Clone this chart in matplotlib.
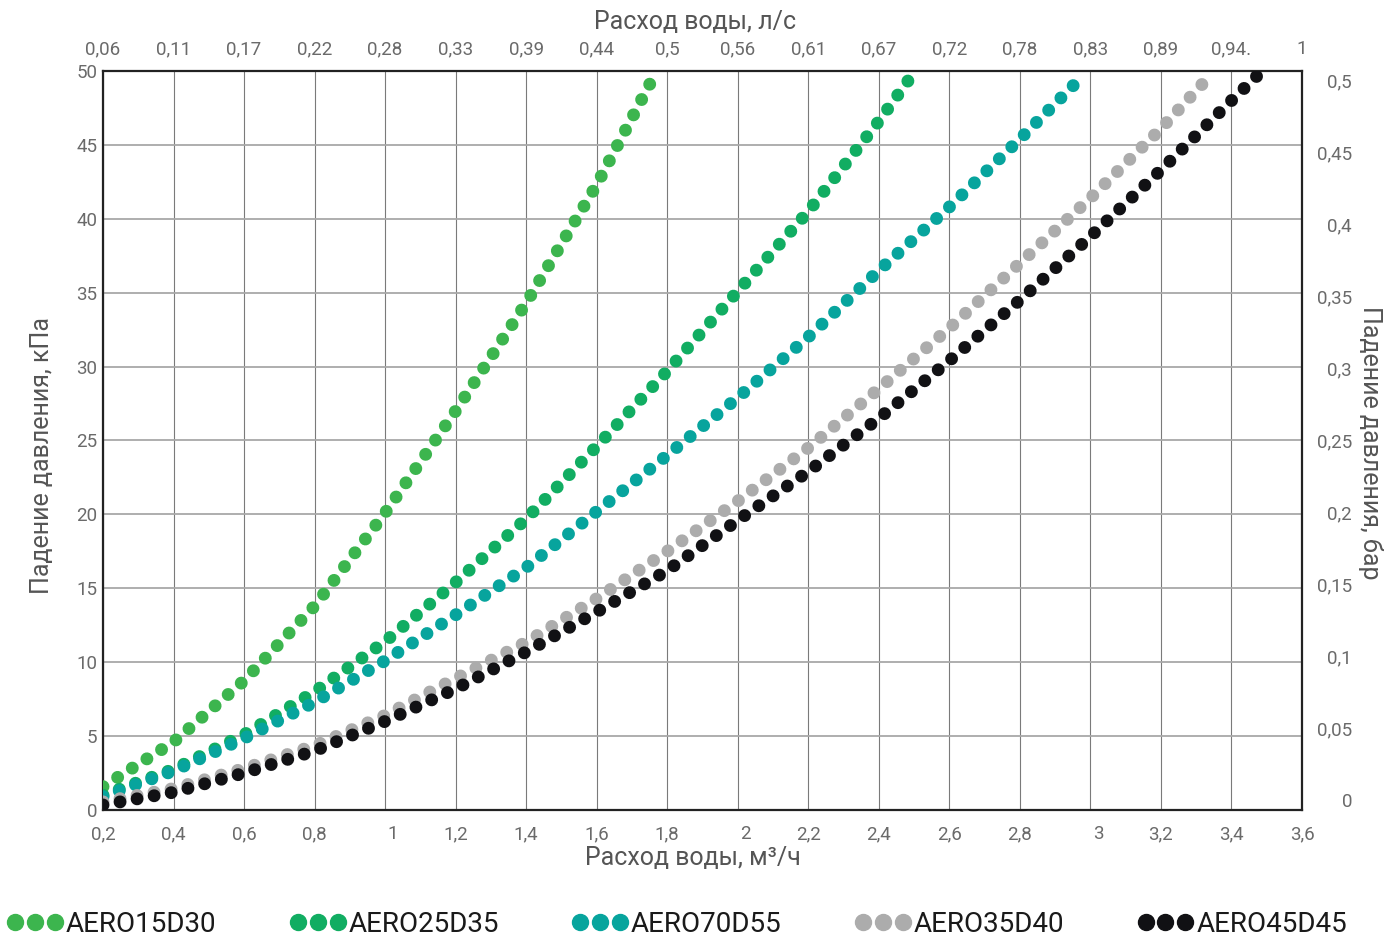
import matplotlib
matplotlib.use('Agg')
import matplotlib.pyplot as plt
import matplotlib.transforms as mtransforms
from matplotlib.lines import Line2D

plt.rcParams['font.family'] = ['Roboto', 'DejaVu Sans']

# --- data ---
x_15 = [0.2, 0.4, 0.6, 0.8, 1.0, 1.2, 1.4, 1.6, 1.77]
y_15 = [1.58, 4.6, 8.75, 13.8, 20.1, 27.0, 34.3, 42.3, 50.0]

x_25 = [0.2, 0.4, 0.6, 0.8, 1.0, 1.2, 1.4, 1.6, 1.8, 2.0, 2.2, 2.4, 2.5]
y_25 = [1.0, 2.75, 5.1, 8.0, 11.4, 15.4, 19.7, 24.6, 29.7, 35.1, 40.5, 46.6, 49.9]

x_70 = [0.2, 0.4, 0.6, 0.8, 1.0, 1.2, 1.4, 1.6, 1.8, 2.0, 2.2, 2.4, 2.6, 2.8, 2.98]
y_70 = [0.9, 2.65, 4.85, 7.3, 10.1, 13.2, 16.4, 20.2, 24.0, 27.9, 32.0, 36.5, 40.8, 45.4, 49.7]

x_35 = [0.2, 0.4, 0.6, 0.8, 1.0, 1.2, 1.4, 1.6, 1.8, 2.0, 2.2, 2.4, 2.6, 2.8, 3.0, 3.2, 3.34]
y_35 = [0.55, 1.45, 2.8, 4.35, 6.4, 8.9, 11.35, 14.3, 17.5, 20.9, 24.5, 28.5, 32.6, 37.0, 41.4, 46.1, 49.7]

x_45 = [0.2, 0.4, 0.6, 0.8, 1.0, 1.2, 1.4, 1.6, 1.8, 2.0, 2.2, 2.4, 2.6, 2.8, 3.0, 3.2, 3.4, 3.5]
y_45 = [0.34, 1.2, 2.5, 4.0, 6.0, 8.2, 10.7, 13.4, 16.2, 19.6, 22.9, 26.5, 30.4, 34.5, 38.8, 43.3, 48.0, 50.3]

names = ['AERO15D30', 'AERO25D35', 'AERO70D55', 'AERO35D40', 'AERO45D45']
colors = ['#3cb54e', '#11ad62', '#07a49d', '#acacac', '#111114']

x_ticks = [0.2, 0.4, 0.6, 0.8, 1.0, 1.2, 1.4, 1.6, 1.8, 2.0, 2.2, 2.4, 2.6, 2.8, 3.0, 3.2, 3.4, 3.6]
x_labels = ['0,2', '0,4', '0,6', '0,8', '1', '1,2', '1,4', '1,6', '1,8', '2', '2,2', '2,4',
            '2,6', '2,8', '3', '3,2', '3,4', '3,6']
top_labels = ['0,06', '0,11', '0,17', '0,22', '0,28', '0,33', '0,39', '0,44', '0,5', '0,56',
              '0,61', '0,67', '0,72', '0,78', '0,83', '0,89', '0,94.', '1']
y_ticks = [0, 5, 10, 15, 20, 25, 30, 35, 40, 45, 50]
bar_ticks = [0, 0.05, 0.1, 0.15, 0.2, 0.25, 0.3, 0.35, 0.4, 0.45, 0.5]
bar_labels = ['0', '0,05', '0,1', '0,15', '0,2', '0,25', '0,3', '0,35', '0,4', '0,45', '0,5']

tick_color = '#6a6a6a'
tick_size = 13.5

fig = plt.figure(figsize=(13.87, 9.40), dpi=100)
ax = fig.add_axes([0.07426, 0.1383, 0.86446, 0.78617])

series = [(x_15, y_15), (x_25, y_25), (x_70, y_70), (x_35, y_35), (x_45, y_45)]
for (xs, ys), c in zip(series, colors):
    ax.plot(xs, ys, color=c, lw=9.3, linestyle=(0, (0.001, 1.34)),
            dash_capstyle='round', zorder=3)

ax.set_xlim(0.2, 3.6)
ax.set_ylim(0, 50)
ax.set_xticks(x_ticks)
ax.set_xticklabels(x_labels)
ax.set_yticks(y_ticks)
ax.set_yticklabels([str(v) for v in y_ticks])
ax.tick_params(length=0, labelsize=tick_size, labelcolor=tick_color)
ax.tick_params(axis='x', pad=11)
ax.tick_params(axis='y', pad=4)
ax.set_axisbelow(True)
ax.xaxis.grid(True, color='#7a7a7a', lw=0.8)
ax.yaxis.grid(True, color='#a8a8a8', lw=1.3)
for s in ax.spines.values():
    s.set_color('#222222')
    s.set_linewidth(1.6)

# whole-number labels sit a little right of their grid line in the original
shift = mtransforms.ScaledTranslation(8 / 100, 0, fig.dpi_scale_trans)
for lab in ax.get_xticklabels():
    if len(lab.get_text()) == 1:
        lab.set_transform(lab.get_transform() + shift)

ax_top = ax.twiny()
ax_top.set_xlim(ax.get_xlim())
ax_top.set_xticks(x_ticks)
ax_top.set_xticklabels(top_labels)
ax_top.tick_params(length=0, labelsize=tick_size, labelcolor=tick_color, pad=9)

ax_r = ax.twinx()
ax_r.set_ylim(-0.00694, 0.50625)
ax_r.set_yticks(bar_ticks)
ax_r.set_yticklabels(bar_labels)
ax_r.tick_params(length=0, labelsize=tick_size, labelcolor=tick_color, pad=36)
for lab in ax_r.get_yticklabels():
    lab.set_horizontalalignment('right')

for a in (ax_top, ax_r):
    for s in a.spines.values():
        s.set_visible(False)

title_kw = dict(fontsize=18, color='#555555', ha='center', va='center')
fig.text(693 / 1387, 1 - 858 / 940, 'Расход воды, м³/ч', **title_kw)
fig.text(695 / 1387, 1 - 22 / 940, 'Расход воды, л/с', **title_kw)
fig.text(42 / 1387, 1 - 455 / 940, 'Падение давления, кПа', rotation=90, **title_kw)
fig.text(1371 / 1387, 1 - 443 / 940, 'Падение давления, бар', rotation=270, **title_kw)

handles = [Line2D([], [], color=c, marker='o', markersize=11.5, linestyle='none')
           for c in colors]
fig.legend(handles, names, loc='lower left', bbox_to_anchor=(0.005, 0.002), ncol=5,
           frameon=False, numpoints=3, handlelength=2.03, handletextpad=0.1,
           columnspacing=2.62, borderpad=0, borderaxespad=0, fontsize=20,
           labelcolor='#1a1a1a')

fig.savefig('out.png', dpi=100)
